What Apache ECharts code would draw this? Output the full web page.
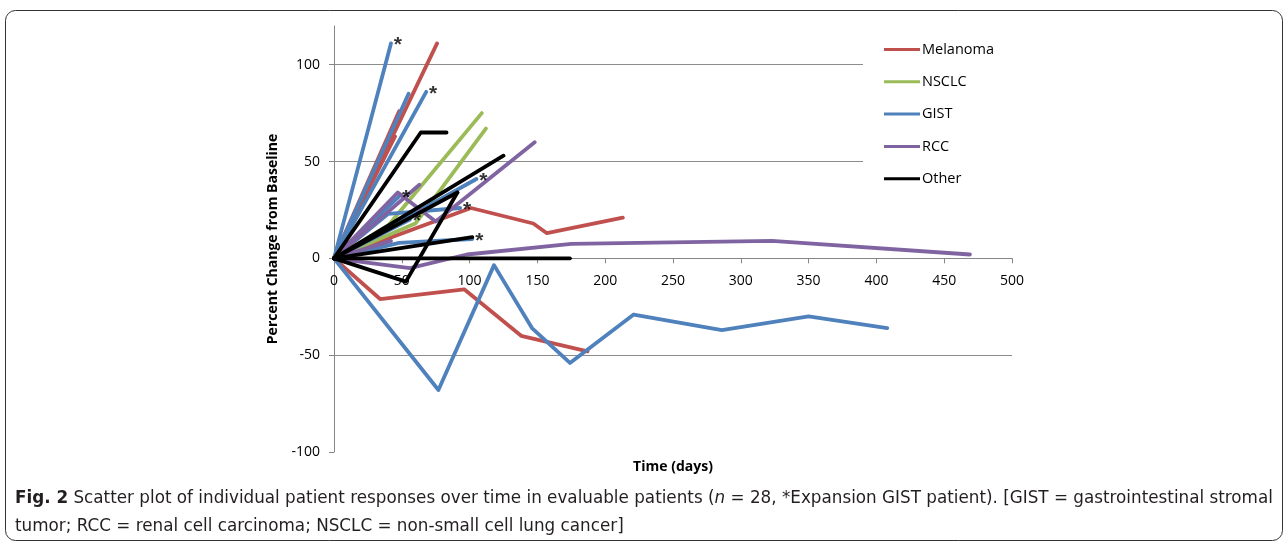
<!DOCTYPE html>
<html>
<head>
<meta charset="utf-8">
<script src="https://cdn.jsdelivr.net/npm/echarts@6/dist/echarts.min.js"></script>
<style>html,body{margin:0;padding:0;background:#fff;}#c{width:1288px;height:544px;}</style>
</head>
<body>
<div id="c"></div>
<script>
// ---- data (days, percent change from baseline) ----
const categories = ['Melanoma', 'NSCLC', 'GIST', 'RCC', 'Other'];
const yTicks = [-100, -50, 0, 50, 100];
const xTicks = [0, 50, 100, 150, 200, 250, 300, 350, 400, 450, 500];

const melanoma = [
  [[0, 0], [76, 111]],
  [[0, 0], [48, 76]],
  [[0, 0], [45, 63]],
  [[0, 0], [101, 26], [147, 18], [157, 13], [213, 21]],
  [[0, 0], [34, -21], [96, -16], [138, -40], [187, -48]]
];
const nsclc = [
  [[0, 0], [40, 17], [109, 75]],
  [[0, 0], [60, 18], [112, 67]]
];
const gist = [
  [[0, 0], [42, 111]],
  [[0, 0], [68, 86]],
  [[0, 0], [55, 85]],
  [[0, 0], [77, -68], [118, -3.5], [146, -36], [174, -54], [221, -29], [286, -37], [350, -30], [408, -36]],
  [[0, 0], [105, 41]],
  [[0, 0], [40, 23], [93, 26]],
  [[0, 0], [48, 8], [102, 10]],
  [[0, 0], [56, 20]],
  [[0, 0], [48, 32]]
];
const gistExpansion = [true, true, false, false, true, true, true, true, true];
const rcc = [
  [[0, 0], [56, -5], [98, 2], [175, 7.5], [323, 9], [469, 2]],
  [[0, 0], [47, 34], [75, 19], [148, 60]],
  [[0, 0], [63, 38]],
  [[0, 0], [42, 9]]
];
const other = [
  [[0, 0], [64, 65], [83, 65]],
  [[0, 0], [125, 53]],
  [[0, 0], [53, -12], [91, 34]],
  [[0, 0], [91, 34]],
  [[0, 0], [174, 0]],
  [[0, 0], [102, 11]]
];

// ---- styling ----
const palette = { Melanoma: '#C0504D', NSCLC: '#9BBB59', GIST: '#4F81BD', RCC: '#8064A2', Other: '#000000' };
const FONT = '"Open Sans", "Liberation Sans", sans-serif';
const CAP_FONT = '"DejaVu Sans", sans-serif';
const groups = { Melanoma: melanoma, NSCLC: nsclc, GIST: gist, RCC: rcc, Other: other };

const series = [];
categories.forEach(cat => {
  groups[cat].forEach(pts => {
    series.push({
      name: cat, type: 'line', data: pts, symbol: 'none', smooth: false,
      xAxisIndex: 0, yAxisIndex: 0,
      color: palette[cat],
      lineStyle: { width: 3.8, color: palette[cat], cap: 'round', join: 'round' },
      emphasis: { disabled: true }, animation: false
    });
  });
});
const asteriskPts = gist.filter((p, i) => gistExpansion[i]).map(p => p[p.length - 1]);
series.push({
  type: 'scatter', data: asteriskPts, symbolSize: 0, silent: true, animation: false, z: 5,
  xAxisIndex: 0, yAxisIndex: 0,
  label: { show: true, formatter: '*', position: 'inside', offset: [7, 2], color: '#000',
           fontSize: 21, fontWeight: 'bold', fontFamily: '"Liberation Sans", sans-serif' }
});

const xMin = xTicks[0], xMax = xTicks[xTicks.length - 1];
const chart = echarts.init(document.getElementById('c'), null, { renderer: 'canvas' });
chart.setOption({
  animation: false,
  backgroundColor: '#fff',
  grid: [
    { left: 334, right: 276, top: 26, bottom: 92, containLabel: false, outerBoundsMode: 'none' },
    { left: 334, right: 276, top: 26, height: 232.3, containLabel: false, outerBoundsMode: 'none' }
  ],
  xAxis: [
    {
      gridIndex: 0, type: 'value', min: xMin, max: xMax, interval: 50,
      name: 'Time (days)', nameLocation: 'middle', nameGap: 8,
      nameTextStyle: { fontFamily: FONT, fontSize: 14, fontWeight: 'bold', color: '#000' },
      axisLine: { show: false, onZero: false }, axisTick: { show: false },
      axisLabel: { show: false }, splitLine: { show: false }
    },
    {
      gridIndex: 1, type: 'value', min: xMin, max: xMax, interval: 50, position: 'bottom',
      axisLine: { show: true, onZero: false, lineStyle: { color: '#868686', width: 1 } },
      axisTick: { show: true, inside: false, length: 5, lineStyle: { color: '#868686' } },
      axisLabel: { fontFamily: FONT, fontSize: 14, color: '#000', margin: 16 },
      splitLine: { show: false }
    }
  ],
  yAxis: [
    {
      gridIndex: 0, type: 'value', min: yTicks[0], max: 120, interval: 50,
      name: 'Percent Change from Baseline', nameLocation: 'middle', nameGap: 54, nameRotate: 90,
      nameTextStyle: { fontFamily: FONT, fontSize: 14, fontWeight: 'bold', color: '#000' },
      axisLine: { show: true, onZero: false, lineStyle: { color: '#868686', width: 1 } },
      axisTick: { show: true, length: 5, lineStyle: { color: '#868686' } },
      axisLabel: { fontFamily: FONT, fontSize: 14, color: '#000', margin: 14,
                   showMaxLabel: false,
                   formatter: v => (yTicks.indexOf(v) >= 0 ? String(v) : '') },
      splitLine: { show: true, showMinLine: false, showMaxLine: false, lineStyle: { color: '#8c8c8c', width: 1 } }
    },
    {
      gridIndex: 1, type: 'value', min: 0, max: 120, show: false
    }
  ],
  legend: {
    data: categories, orient: 'vertical', left: 863, top: 24,
    padding: [18, 50, 18, 21], backgroundColor: '#fff',
    itemWidth: 36, itemHeight: 14, itemGap: 17.3,
    icon: 'path://M0,6 L36,6 L36,9 L0,9 Z',
    textStyle: { fontFamily: FONT, fontSize: 14.5, color: '#000', padding: [0, 0, 0, -3] },
    selectedMode: false
  },
  graphic: [
    { type: 'rect', shape: { x: 5.5, y: 10.5, width: 1277, height: 530, r: 10 },
      style: { fill: 'none', stroke: '#333', lineWidth: 1 }, silent: true, z: -1 },
    { type: 'text', left: 15, top: 485, silent: true,
      style: {
        text: '{b|Fig. 2} Scatter plot of individual patient responses over time in evaluable patients ({i|n} = 28, *Expansion GIST patient). [GIST = gastrointestinal stromal\ntumor; RCC = renal cell carcinoma; NSCLC = non-small cell lung cancer]',
        font: '16.8px ' + CAP_FONT, fill: '#231f20', lineHeight: 28,
        rich: {
          b: { fontWeight: 'bold', fontSize: 16.8, fontFamily: CAP_FONT, fill: '#231f20', lineHeight: 28 },
          i: { fontStyle: 'italic', fontSize: 16.8, fontFamily: CAP_FONT, fill: '#231f20', lineHeight: 28 }
        }
      } }
  ],
  series: series
});
</script>
</body>
</html>
